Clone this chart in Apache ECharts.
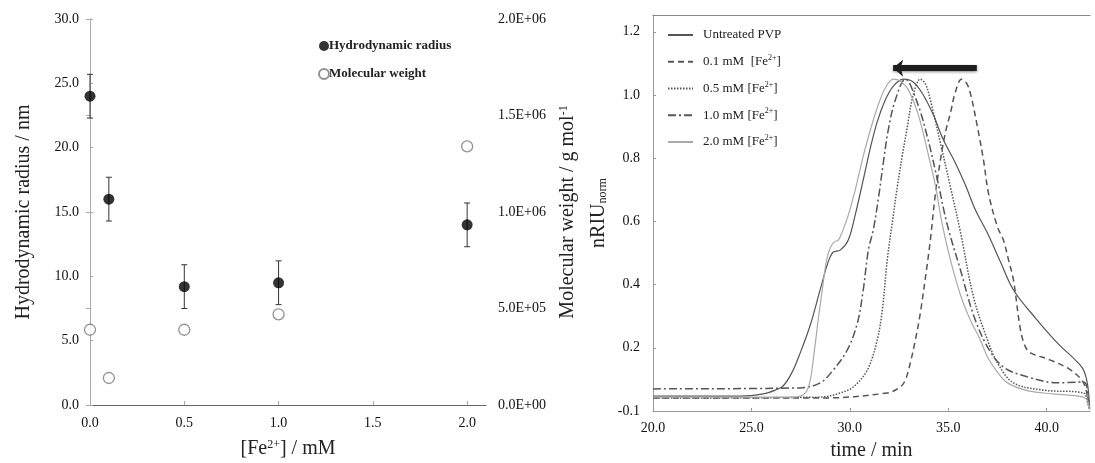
<!DOCTYPE html>
<html>
<head>
<meta charset="utf-8">
<script src="https://cdn.jsdelivr.net/npm/echarts@6/dist/echarts.min.js"></script>
<style>
  html, body { margin: 0; padding: 0; background: #fff; }
  #chart { width: 1095px; height: 463px; }
</style>
</head>
<body>
<div id="chart"></div>
<script>
// ---- Left panel: hydrodynamic radius and molecular weight vs [Fe2+] ----
const feConc = [0, 0.1, 0.5, 1.0, 2.0];                  // mM
const hydroRadius = [24.0, 16.0, 9.2, 9.5, 14.0];       // nm
const hydroRadiusErr = [1.7, 1.7, 1.7, 1.7, 1.7];       // nm
const molWeight = [3.9e5, 1.4e5, 3.9e5, 4.7e5, 1.34e6]; // g/mol

// ---- Right panel: normalised RI chromatograms ----
const untreatedTime = [20, 24.43, 25.60, 26.21, 26.61, 27.07, 27.48, 27.99, 28.49, 28.90, 29.16, 29.51, 29.92, 30.27, 30.68, 31.04, 31.39, 31.80, 32.21, 32.72, 33.22, 33.73, 34.24, 34.75, 35.36, 35.87, 36.38, 36.99, 37.65, 38.31, 39.43, 40.55, 41.46, 41.87, 42.08, 42.18];
const untreatedRI   = [0.047, 0.047, 0.054, 0.066, 0.079, 0.123, 0.184, 0.272, 0.383, 0.472, 0.503, 0.509, 0.541, 0.620, 0.731, 0.832, 0.915, 0.984, 1.028, 1.050, 1.041, 1.000, 0.937, 0.858, 0.785, 0.715, 0.636, 0.563, 0.472, 0.383, 0.294, 0.215, 0.161, 0.130, 0.082, 0.010];

const fe01Time = [20, 28.49, 31.90, 32.56, 32.82, 33.07, 33.33, 33.58, 33.94, 34.09, 34.34, 34.60, 34.85, 35.11, 35.36, 35.67, 35.92, 36.12, 36.48, 36.79, 37.04, 37.50, 37.80, 38.06, 38.31, 38.67, 38.92, 39.18, 40.19, 41.21, 41.87, 42.13, 42.18];
const fe01RI   = [0.041, 0.041, 0.057, 0.076, 0.098, 0.152, 0.225, 0.310, 0.468, 0.541, 0.684, 0.794, 0.880, 0.943, 1.009, 1.050, 1.038, 1.006, 0.899, 0.794, 0.690, 0.582, 0.541, 0.478, 0.415, 0.256, 0.203, 0.184, 0.161, 0.130, 0.089, 0.025, 0.005];

const fe05Time = [20, 28.49, 29.51, 30.17, 30.89, 31.39, 31.65, 31.90, 32.16, 32.41, 32.67, 32.92, 33.22, 33.58, 33.84, 34.09, 34.60, 35.11, 35.62, 36.28, 36.99, 37.50, 38.31, 39.84, 41.87, 42.08, 42.18];
const fe05RI   = [0.041, 0.044, 0.057, 0.076, 0.130, 0.225, 0.320, 0.478, 0.598, 0.709, 0.810, 0.899, 1.000, 1.050, 1.035, 0.984, 0.848, 0.709, 0.566, 0.361, 0.225, 0.152, 0.089, 0.066, 0.057, 0.025, 0.005];

const fe10Time = [20, 27.48, 28.49, 29.16, 29.87, 30.38, 30.68, 30.94, 31.19, 31.44, 31.70, 31.95, 32.31, 32.82, 33.43, 33.94, 34.45, 34.95, 35.62, 36.28, 36.99, 37.80, 39.02, 40.55, 41.87, 42.13, 42.18];
const fe10RI   = [0.070, 0.073, 0.089, 0.130, 0.193, 0.278, 0.383, 0.509, 0.573, 0.668, 0.785, 0.889, 0.984, 1.050, 0.975, 0.867, 0.731, 0.589, 0.446, 0.304, 0.203, 0.139, 0.108, 0.089, 0.092, 0.025, 0.005];

const fe20Time = [20, 26.97, 27.48, 27.78, 27.99, 28.14, 28.39, 28.60, 28.80, 29.00, 29.21, 29.41, 29.61, 29.92, 30.27, 30.63, 31.04, 31.44, 31.80, 32.21, 32.56, 32.97, 33.48, 33.99, 34.34, 34.70, 35.11, 35.62, 36.12, 36.63, 36.99, 37.50, 38.01, 38.92, 39.84, 40.96, 41.87, 42.08, 42.18];
const fe20RI   = [0.044, 0.044, 0.047, 0.060, 0.098, 0.161, 0.288, 0.383, 0.472, 0.516, 0.535, 0.541, 0.566, 0.620, 0.699, 0.794, 0.889, 0.968, 1.022, 1.050, 1.044, 1.016, 0.937, 0.810, 0.715, 0.589, 0.478, 0.367, 0.288, 0.225, 0.171, 0.123, 0.089, 0.066, 0.057, 0.051, 0.044, 0.032, 0.005];

// Peak-shift arrow (time, nRIU)
const shiftArrowFrom = [36.45, 1.085];
const shiftArrowTo = [32.2, 1.085];

// Tick labels
const leftXTicks = ['0.0', '0.5', '1.0', '1.5', '2.0'];
const rightYTicks = ['-0.1', '0.2', '0.4', '0.6', '0.8', '1.0', '1.2'];

const pair = (xs, ys) => xs.map((x, i) => [x, ys[i]]);

const serif = 'Liberation Serif, Times New Roman, serif';
const tickFont = { fontFamily: serif, fontSize: 14, color: '#111' };
const nameFont = {
  fontFamily: serif, fontSize: 20, color: '#222',
  rich: {
    sup: { fontFamily: serif, fontSize: 12, color: '#222', verticalAlign: 'top', lineHeight: 12 },
    sub: { fontFamily: serif, fontSize: 12, color: '#222', verticalAlign: 'bottom', lineHeight: 12 }
  }
};
const axisGray = { lineStyle: { color: '#aaa', width: 1 } };

const chart = echarts.init(document.getElementById('chart'), null, { renderer: 'canvas' });

const lineBase = { type: 'line', xAxisIndex: 2, yAxisIndex: 2, symbol: 'none', smooth: 0.35, z: 3 };

chart.setOption({
  animation: false,
  backgroundColor: '#fff',
  grid: [
    { left: 90, top: 19, width: 396, height: 386, outerBoundsMode: 'none' },
    { left: 653, top: 15, right: 5, height: 396, outerBoundsMode: 'none' }
  ],
  legend: [
    {
      left: 318, top: 38, padding: 0, orient: 'vertical', itemGap: 12,
      itemWidth: 10, itemHeight: 10,
      data: ['Hydrodynamic radius', 'Molecular weight'],
      textStyle: { fontFamily: serif, fontSize: 13, fontWeight: 'bold', color: '#222', lineHeight: 16, padding: [0, 0, 0, -5] }
    },
    {
      left: 667, top: 27, padding: 0, orient: 'vertical', itemGap: 10.75,
      itemWidth: 25, itemHeight: 12,
      itemStyle: { opacity: 0 },
      data: ['Untreated PVP', '0.1 mM  [Fe2+]', '0.5 mM [Fe2+]', '1.0 mM [Fe2+]', '2.0 mM [Fe2+]'],
      formatter: n => n.replace('Fe2+', 'Fe{sup|2+}'),
      textStyle: {
        fontFamily: serif, fontSize: 13, color: '#222', lineHeight: 16, padding: [0, 0, 0, 5],
        rich: { sup: { fontFamily: serif, fontSize: 8, color: '#222', verticalAlign: 'top', lineHeight: 9 } }
      }
    }
  ],
  xAxis: [
    {
      gridIndex: 0, type: 'value', min: 0, max: 2.1, interval: 0.5,
      axisLine: axisGray, axisTick: { inside: true, length: 4, lineStyle: { color: '#aaa' } },
      splitLine: { show: false },
      axisLabel: { ...tickFont, margin: 11, showMaxLabel: false, formatter: (v) => leftXTicks[Math.round(v / 0.5)] ?? '' },
      name: '[Fe{sup|2+}] / mM', nameLocation: 'middle', nameGap: 34, nameTextStyle: nameFont
    },
    {
      gridIndex: 0, type: 'value', position: 'top', min: 0, max: 2.1,
      axisLine: { lineStyle: { color: '#666', width: 1.2 } }, axisTick: { show: false },
      axisLabel: { show: false }, splitLine: { show: false }
    },
    {
      gridIndex: 1, type: 'value', min: 20, max: 42.2, interval: 5,
      axisLine: { lineStyle: { color: '#999' } }, axisTick: { inside: true, length: 3, lineStyle: { color: '#999' } },
      splitLine: { show: false },
      axisLabel: { ...tickFont, margin: 10, showMaxLabel: false, formatter: v => v.toFixed(1) },
      name: 'time / min', nameLocation: 'middle', nameGap: 30, nameTextStyle: nameFont
    },
    {
      gridIndex: 1, type: 'value', position: 'top', min: 20, max: 42.2,
      axisLine: { lineStyle: { color: '#888', width: 1.2 } }, axisTick: { show: false },
      axisLabel: { show: false }, splitLine: { show: false }
    }
  ],
  yAxis: [
    {
      gridIndex: 0, type: 'value', min: 0, max: 30, interval: 5,
      axisLine: { show: true, ...axisGray }, axisTick: { show: true, inside: true, length: 3, lineStyle: { color: '#aaa' } },
      splitLine: { show: false },
      axisLabel: { ...tickFont, margin: 11, formatter: v => v.toFixed(1) },
      name: 'Hydrodynamic radius / nm', nameLocation: 'middle', nameGap: 56, nameTextStyle: nameFont
    },
    {
      gridIndex: 0, type: 'value', position: 'right', min: 0, max: 2e6, interval: 5e5,
      axisLine: { show: true, ...axisGray }, axisTick: { show: true, inside: true, length: 4, lineStyle: { color: '#aaa' } },
      splitLine: { show: false },
      axisLabel: { ...tickFont, margin: 12, formatter: v => v.toExponential(1).replace('e+', 'E+0') },
      name: 'Molecular weight / g mol{sup|-1}', nameLocation: 'middle', nameGap: 72, nameTextStyle: nameFont
    },
    {
      gridIndex: 1, type: 'value', min: 0, max: 1.253, interval: 0.2,
      axisLine: { show: true, lineStyle: { color: '#999' } }, axisTick: { show: true, inside: true, length: 3, lineStyle: { color: '#999' } },
      splitLine: { show: false },
      axisLabel: { ...tickFont, margin: 13, showMaxLabel: false, formatter: v => rightYTicks[Math.round(v / 0.2)] ?? '' },
      name: 'nRIU{sub|norm}', nameLocation: 'middle', nameGap: 44, nameTextStyle: nameFont
    }
  ],
  series: [
    {
      name: 'Hydrodynamic radius error', type: 'custom', xAxisIndex: 0, yAxisIndex: 0, z: 2,
      data: feConc.map((c, i) => [c, hydroRadius[i], hydroRadiusErr[i]]),
      encode: { x: 0, y: 1 },
      clip: false,
      renderItem: (params, api) => {
        const x = api.value(0), y = api.value(1), e = api.value(2);
        const top = api.coord([x, y + e]);
        const bot = api.coord([x, y - e]);
        const cap = 3;
        const style = { stroke: '#333', lineWidth: 1 };
        return {
          type: 'group',
          children: [
            { type: 'line', shape: { x1: top[0], y1: top[1], x2: bot[0], y2: bot[1] }, style },
            { type: 'line', shape: { x1: top[0] - cap, y1: top[1], x2: top[0] + cap, y2: top[1] }, style },
            { type: 'line', shape: { x1: bot[0] - cap, y1: bot[1], x2: bot[0] + cap, y2: bot[1] }, style }
          ]
        };
      }
    },
    {
      name: 'Hydrodynamic radius', type: 'scatter', xAxisIndex: 0, yAxisIndex: 0, z: 4,
      symbol: 'circle', symbolSize: 11, clip: false,
      itemStyle: { color: '#000' },
      data: pair(feConc, hydroRadius)
    },
    {
      name: 'Molecular weight', type: 'scatter', xAxisIndex: 0, yAxisIndex: 1, z: 4,
      symbol: 'circle', symbolSize: 11, clip: false,
      itemStyle: { color: '#fff', borderColor: '#777', borderWidth: 1.3 },
      data: pair(feConc, molWeight)
    },
    {
      ...lineBase, name: 'Untreated PVP',
      itemStyle: { color: '#555' },
      lineStyle: { color: '#555', width: 1.2, type: 'solid' },
      data: pair(untreatedTime, untreatedRI),
      markLine: {
        silent: true, symbol: ['none', 'arrow'], symbolSize: [13, 10],
        lineStyle: { color: '#1e1e1e', width: 6, type: 'solid', shadowBlur: 3, shadowColor: 'rgba(0,0,0,0.45)', shadowOffsetY: 1 },
        label: { show: false },
        data: [[{ coord: shiftArrowFrom }, { coord: shiftArrowTo }]]
      }
    },
    {
      ...lineBase, name: '0.1 mM  [Fe2+]',
      itemStyle: { color: '#555' },
      lineStyle: { color: '#555', width: 1.5, type: [6, 4] },
      data: pair(fe01Time, fe01RI)
    },
    {
      ...lineBase, name: '0.5 mM [Fe2+]',
      itemStyle: { color: '#555' },
      lineStyle: { color: '#555', width: 1.5, type: [1.5, 1.5] },
      data: pair(fe05Time, fe05RI)
    },
    {
      ...lineBase, name: '1.0 mM [Fe2+]',
      itemStyle: { color: '#555' },
      lineStyle: { color: '#555', width: 1.5, type: [8, 3, 2, 3] },
      data: pair(fe10Time, fe10RI)
    },
    {
      ...lineBase, name: '2.0 mM [Fe2+]',
      itemStyle: { color: '#aaa' },
      lineStyle: { color: '#aaa', width: 1.2, type: 'solid' },
      data: pair(fe20Time, fe20RI)
    }
  ]
});
</script>
</body>
</html>
